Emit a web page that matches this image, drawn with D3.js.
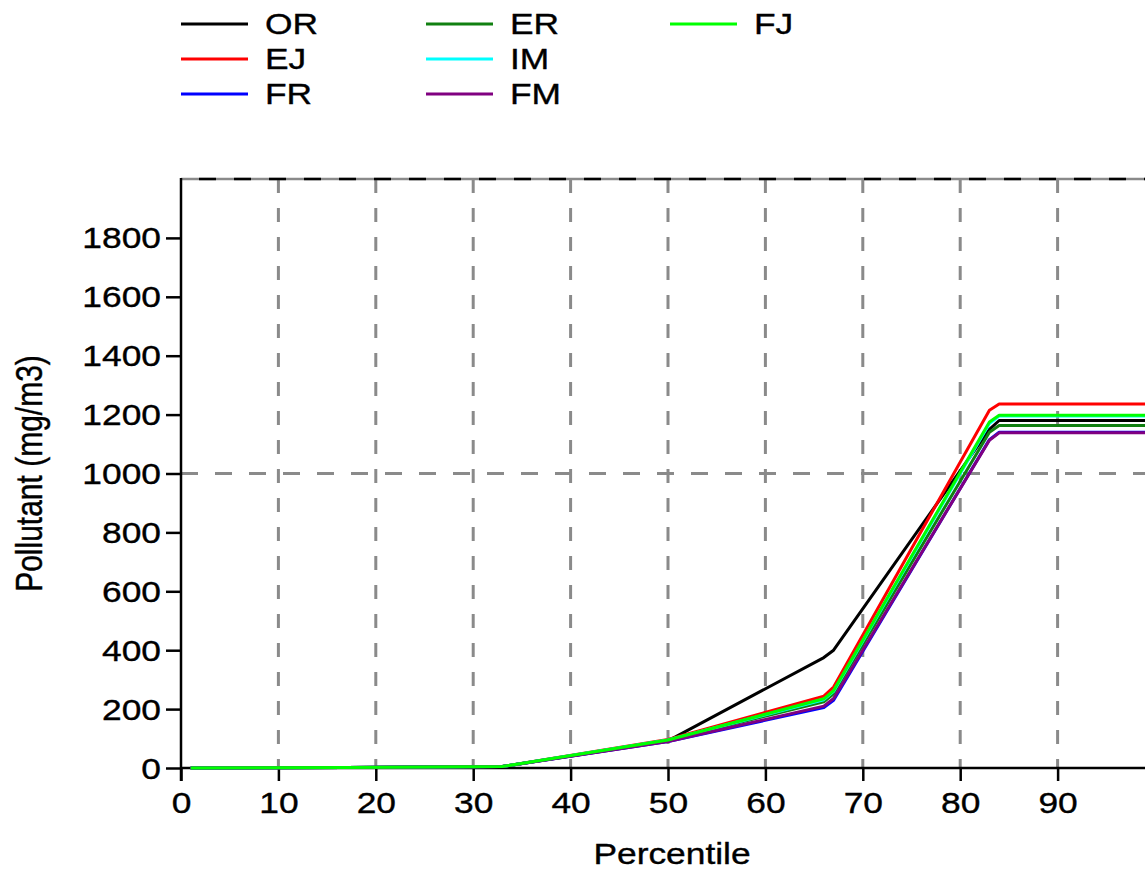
<!DOCTYPE html>
<html>
<head>
<meta charset="utf-8">
<script src="https://cdn.jsdelivr.net/npm/d3@7"></script>
<style>
  body { margin: 0; background: #fff; }
  text { font-family: "Liberation Sans", Arial, sans-serif; fill: #000; stroke: #000; stroke-width: 0.35px; }
</style>
</head>
<body>
<div id="chart"></div>
<script>
// percentiles where the curves bend
const percentiles = [1, 17, 33, 50, 66, 67, 83, 84, 100];

// pollutant values per series (mg/m3)
const OR = [0, 2, 5, 92, 375, 400, 1150, 1180, 1180];
const EJ = [0, 2, 5, 97, 244, 275, 1215, 1236, 1236];
const FR = [0, 2, 5, 90, 205, 230, 1115, 1140, 1140];
const ER = [0, 2, 5, 94, 225, 252, 1140, 1163, 1163];
const IM = [0, 2, 5, 95, 232, 260, 1170, 1195, 1195];
const FM = [0, 2, 5, 90, 210, 236, 1113, 1138, 1138];
const FJ = [0, 2, 5, 95, 235, 263, 1175, 1198, 1198];

const seriesNames = ["OR", "EJ", "FR", "ER", "IM", "FM", "FJ"];
const seriesValues = [OR, EJ, FR, ER, IM, FM, FJ];
const seriesColors = ["#000000", "#ff0000", "#0000ff", "#118011", "#00ffff", "#800080", "#00ff00"];

// 100 sits just past the right edge of the window
const xTicks = [0, 10, 20, 30, 40, 50, 60, 70, 80, 90];
const xGrid = [10, 20, 30, 40, 50, 60, 70, 80, 90, 100];
const yTicks = [0, 200, 400, 600, 800, 1000, 1200, 1400, 1600, 1800];
const yGrid = [1000];

const width = 1145,
  height = 869;
// the plot runs past the right edge of the window, as in the picture
const margin = { left: 181, top: 179, bottom: 101 };
const plotRight = 1155;
const stretch = 1.22; // text in the picture is wider than it is tall

const svg = d3.select("#chart")
  .append("svg")
  .attr("width", width)
  .attr("height", height);

const x = d3.scaleLinear().domain([0, 100]).range([margin.left, plotRight]);
const y = d3.scaleLinear().domain([0, 2000]).range([height - margin.bottom, margin.top]);

// dashed grid
svg.selectAll(".vgrid")
  .data(xGrid)
  .join("line")
  .attr("x1", d => x(d)).attr("x2", d => x(d))
  .attr("y1", y(2000)).attr("y2", y(0))
  .attr("stroke", "#8a8a8a")
  .attr("stroke-width", 3)
  .attr("stroke-dasharray", "14,15");

svg.selectAll(".hgrid")
  .data(yGrid)
  .join("line")
  .attr("x1", x(0)).attr("x2", plotRight)
  .attr("y1", d => y(d)).attr("y2", d => y(d))
  .attr("stroke", "#8a8a8a")
  .attr("stroke-width", 3)
  .attr("stroke-dasharray", "17,17");

// top border: grey line with black dashes on it
svg.append("line")
  .attr("x1", x(0)).attr("x2", plotRight)
  .attr("y1", y(2000)).attr("y2", y(2000))
  .attr("stroke", "#8a8a8a")
  .attr("stroke-width", 2.5);
svg.append("line")
  .attr("x1", x(0) + 18).attr("x2", plotRight)
  .attr("y1", y(2000)).attr("y2", y(2000))
  .attr("stroke", "#000")
  .attr("stroke-width", 2.5)
  .attr("stroke-dasharray", "17,18");

// axes
const xAxis = d3.axisBottom(x).tickValues(xTicks).tickSize(13).tickFormat(d3.format("d"));
const yAxis = d3.axisLeft(y).tickValues(yTicks).tickSize(15).tickFormat(d3.format("d"));

const gx = svg.append("g")
  .attr("transform", `translate(0,${y(0)})`)
  .call(xAxis);
const gy = svg.append("g")
  .attr("transform", `translate(${x(0)},0)`)
  .call(yAxis);

[gx, gy].forEach(g => {
  g.select(".domain").remove();
  g.selectAll(".tick line").attr("stroke", "#000").attr("stroke-width", 2.5);
  g.selectAll(".tick text").attr("font-size", 29).attr("fill", "#000");
});

gx.selectAll(".tick text")
  .attr("y", 0)
  .attr("dy", 0)
  .attr("transform", `translate(0,45) scale(${stretch},1)`);
gy.selectAll(".tick text")
  .attr("x", 0)
  .attr("dy", 0)
  .attr("transform", `translate(-20,10) scale(${stretch},1)`);

// axis lines
svg.append("line")
  .attr("x1", x(0)).attr("x2", x(0))
  .attr("y1", y(2000) - 1).attr("y2", y(0) + 13)
  .attr("stroke", "#000").attr("stroke-width", 2.5);
svg.append("line")
  .attr("x1", x(0)).attr("x2", plotRight)
  .attr("y1", y(0)).attr("y2", y(0))
  .attr("stroke", "#000").attr("stroke-width", 2.5);

// axis titles
svg.append("text")
  .attr("transform", `translate(672,864) scale(${stretch},1)`)
  .attr("text-anchor", "middle")
  .attr("font-size", 29)
  .text("Percentile");

svg.append("text")
  .attr("transform", `translate(42,${(y(0) + y(2000)) / 2}) scale(${stretch},1) rotate(-90)`)
  .attr("text-anchor", "middle")
  .attr("font-size", 30)
  .text("Pollutant (mg/m3)");

// curves
const line = d3.line()
  .x((d, i) => x(percentiles[i]))
  .y(d => y(d));

svg.selectAll(".curve")
  .data(seriesValues)
  .join("path")
  .attr("d", d => line(d))
  .attr("fill", "none")
  .attr("stroke", (d, i) => seriesColors[i])
  .attr("stroke-width", 3)
  .attr("stroke-linejoin", "round");

// legend, filled column by column
const legendCols = [181, 426, 670];
const legendRows = [24, 59, 94];

const legend = svg.selectAll(".legend")
  .data(seriesNames)
  .join("g")
  .attr("transform", (d, i) => `translate(${legendCols[Math.floor(i / 3)]},${legendRows[i % 3]})`);

legend.append("line")
  .attr("x1", 0).attr("x2", 67)
  .attr("y1", 0).attr("y2", 0)
  .attr("stroke", (d, i) => seriesColors[i])
  .attr("stroke-width", 3);

legend.append("text")
  .attr("transform", `translate(84,10) scale(${stretch},1)`)
  .attr("font-size", 29)
  .text(d => d);
</script>
</body>
</html>
